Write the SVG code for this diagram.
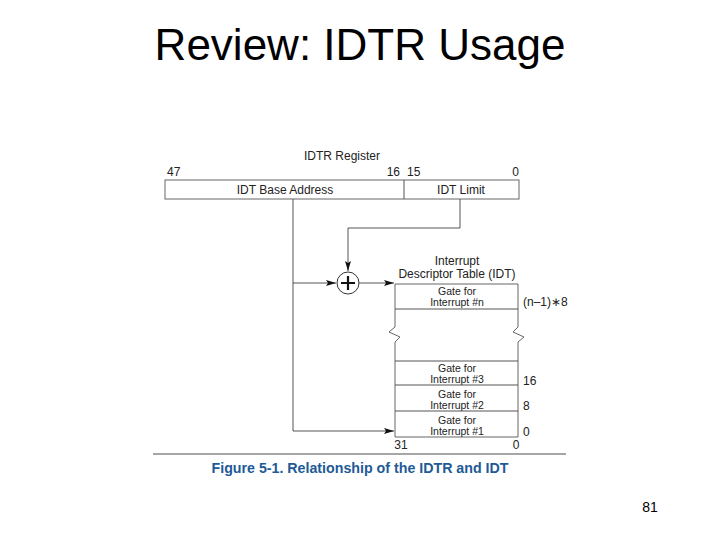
<svg xmlns="http://www.w3.org/2000/svg" width="720" height="540" viewBox="0 0 720 540">
<style>
text{font-family:"Liberation Sans",Arial,sans-serif;fill:#222}
.s{font-size:12px}
.g{font-size:10.5px;text-anchor:middle}
.c{text-anchor:middle}
.box{fill:#fff;stroke:#666;stroke-width:1}
.ln{fill:none;stroke:#555;stroke-width:1}
</style>
<defs>
<marker id="ah" viewBox="0 0 10 6" refX="10" refY="3" markerWidth="10" markerHeight="6" markerUnits="userSpaceOnUse" orient="auto">
<path d="M0,0 L10,3 L0,6 L2,3 Z" fill="#111"/>
</marker>
</defs>
<rect width="720" height="540" fill="#fff"/>
<text x="360" y="60" class="c" style="font-size:44px;fill:#000">Review: IDTR Usage</text>

<g id="idtr">
<text x="342" y="160" class="s c">IDTR Register</text>
<text x="167" y="176" class="s">47</text>
<text x="400" y="176" class="s" text-anchor="end">16</text>
<text x="407" y="176" class="s">15</text>
<text x="519" y="176" class="s" text-anchor="end">0</text>
<rect x="165" y="180" width="354" height="19" class="box"/>
<line x1="404" y1="180" x2="404" y2="199" class="ln" stroke="#666"/>
<text x="285" y="194" class="s c">IDT Base Address</text>
<text x="461" y="194" class="s c">IDT Limit</text>
</g>

<g id="adder">
<circle cx="348" cy="283" r="11" fill="#fff" stroke="#333" stroke-width="1"/>
<path d="M341,283 H355 M348,276 V290" stroke="#111" stroke-width="2.2"/>
</g>

<g id="idt">
<text x="457" y="265" class="s c">Interrupt</text>
<text x="457" y="278" class="s c">Descriptor Table (IDT)</text>
<path d="M395,284 H518 V327 L513,332 L524,337 L518,342 V437 H395 V342 L400,337 L389,332 L395,327 Z" class="box"/>
<line x1="395" y1="309" x2="518" y2="309" class="ln" stroke="#666"/>
<line x1="395" y1="361" x2="518" y2="361" class="ln" stroke="#666"/>
<line x1="395" y1="385" x2="518" y2="385" class="ln" stroke="#666"/>
<line x1="395" y1="411" x2="518" y2="411" class="ln" stroke="#666"/>
<text x="457" y="295" class="g">Gate for</text>
<text x="457" y="306" class="g">Interrupt #n</text>
<text x="523" y="306" class="s">(n–1)∗8</text>
<text x="457" y="372" class="g">Gate for</text>
<text x="457" y="383" class="g">Interrupt #3</text>
<text x="523" y="385" class="s">16</text>
<text x="457" y="398" class="g">Gate for</text>
<text x="457" y="409" class="g">Interrupt #2</text>
<text x="523" y="410" class="s">8</text>
<text x="457" y="424" class="g">Gate for</text>
<text x="457" y="435" class="g">Interrupt #1</text>
<text x="523" y="436" class="s">0</text>
<text x="401" y="449" class="s c">31</text>
<text x="516" y="449" class="s c">0</text>
</g>

<g id="connectors">
<path d="M460,199 V228 H348 V271" class="ln" marker-end="url(#ah)"/>
<path d="M293,199 V431 H394" class="ln" marker-end="url(#ah)"/>
<path d="M293,283 H336" class="ln" marker-end="url(#ah)"/>
<path d="M359,283 H394" class="ln" marker-end="url(#ah)"/>
</g>

<g id="caption">
<line x1="153" y1="454" x2="566" y2="454" stroke="#888" stroke-width="1.5"/>
<text x="360" y="473" class="c" style="font-size:15px;font-weight:bold;fill:#1e5a96" textLength="297" lengthAdjust="spacingAndGlyphs">Figure 5-1.  Relationship of the IDTR and IDT</text>
</g>
<text x="650" y="512" class="c" style="font-size:14px;fill:#000">81</text>
</svg>
